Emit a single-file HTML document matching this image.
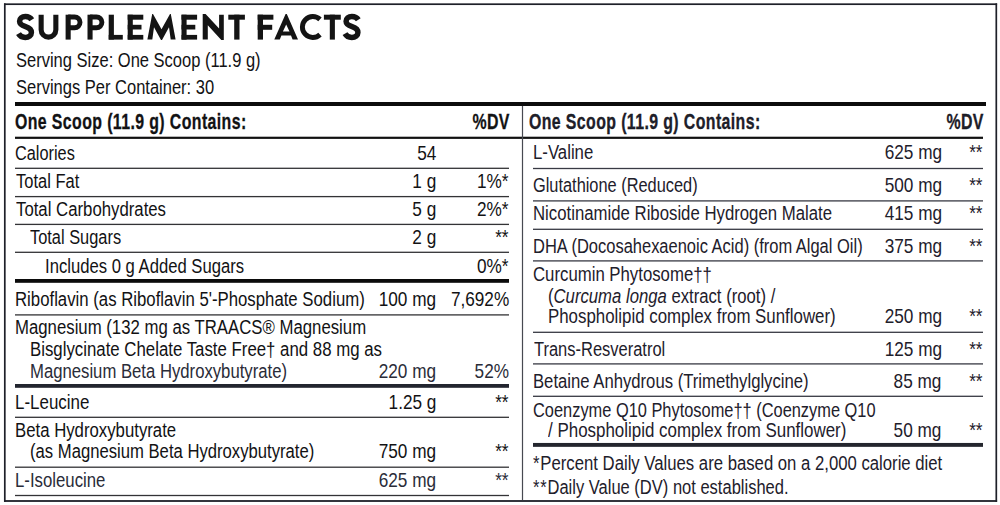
<!DOCTYPE html>
<html><head><meta charset="utf-8"><title>Supplement Facts</title>
<style>
html,body{margin:0;padding:0;background:#fff;}
body{width:1000px;height:505px;position:relative;overflow:hidden;font-family:"Liberation Sans",sans-serif;color:#121214;}
.t{position:absolute;white-space:pre;}
.dg{position:relative;top:1px;}
svg{position:absolute;left:0;top:0;}
</style></head><body>
<svg width="1000" height="505" viewBox="0 0 1000 505">
<rect x="4.0" y="3.35" width="993.1" height="1.7" fill="#1e2029"/>
<rect x="4.0" y="500.10" width="993.1" height="1.8" fill="#1e2029"/>
<rect x="3.95" y="3.35" width="1.7" height="498.54999999999995" fill="#1e2029"/>
<rect x="995.45" y="3.35" width="1.7" height="498.54999999999995" fill="#1e2029"/>
<g fill="#141414"><path d="M31.8 19.8 C30.4 17.5 28.1 16.5 25.4 16.5 C21.9 16.5 19.6 18.5 19.6 21.3 C19.6 24.7 22.5 25.7 25.6 26.7 C29.0 27.8 31.4 29.2 31.4 32.5 C31.4 35.4 28.8 37.4 25.3 37.4 C22.2 37.4 19.8 35.9 18.5 33.6" fill="none" stroke="#141414" stroke-width="5.5"/><path d="M41.15 14.7 V29.75 A7.35 7.35 0 0 0 55.85 29.75 V14.7" fill="none" stroke="#141414" stroke-width="5.1"/><rect x="65.6" y="14.7" width="5.10" height="24.90"/><path d="M68.15 16.95 H74.6 A5.4 5.4 0 0 1 74.6 27.75 H68.15" fill="none" stroke="#141414" stroke-width="4.9"/><rect x="87.5" y="14.7" width="5.10" height="24.90"/><path d="M90.05000000000001 16.95 H96.5 A5.4 5.4 0 0 1 96.5 27.75 H90.05000000000001" fill="none" stroke="#141414" stroke-width="4.9"/><rect x="108.7" y="14.7" width="5.20" height="24.90"/><rect x="108.7" y="34.9" width="14.10" height="4.70"/><rect x="127.7" y="14.7" width="5.10" height="24.90"/><rect x="127.7" y="14.7" width="15.60" height="5.00"/><rect x="127.7" y="24.8" width="13.80" height="4.70"/><rect x="127.7" y="34.9" width="15.60" height="4.70"/><path fill-rule="evenodd" d="M147.40 39.60 L152.20 14.10 L153.00 14.10 L161.50 29.30 L170.00 14.10 L170.80 14.10 L175.60 39.60 L170.70 39.60 L169.00 27.30 L162.00 39.90 L161.00 39.90 L154.00 27.30 L152.30 39.60 Z"/><rect x="181.5" y="14.7" width="5.10" height="24.90"/><rect x="181.5" y="14.7" width="15.60" height="5.00"/><rect x="181.5" y="24.8" width="13.80" height="4.70"/><rect x="181.5" y="34.9" width="15.60" height="4.70"/><path fill-rule="evenodd" d="M202.70 39.60 L202.70 14.10 L205.60 14.10 L219.10 28.60 L219.10 14.70 L223.80 14.70 L223.80 39.90 L221.30 39.90 L207.80 25.20 L207.80 39.60 Z"/><rect x="228.3" y="14.7" width="16.60" height="5.00"/><rect x="234.2" y="14.7" width="5.30" height="24.90"/><rect x="257.7" y="14.7" width="5.30" height="24.90"/><rect x="257.7" y="14.7" width="15.70" height="5.00"/><rect x="257.7" y="24.8" width="14.50" height="5.00"/><path fill-rule="evenodd" d="M274.30 39.60 L285.60 14.10 L286.80 14.10 L298.00 39.60 L292.60 39.60 L291.00 35.50 L281.40 35.50 L279.80 39.60 Z M286.20 24.60 L289.50 31.60 L282.90 31.60 Z"/><path d="M320.0 19.4 A10.45 10.45 0 1 0 320.0 34.6" fill="none" stroke="#141414" stroke-width="4.9"/><rect x="323.9" y="14.7" width="16.90" height="5.00"/><rect x="329.8" y="14.7" width="5.10" height="24.90"/><path d="M358.3 19.8 C356.9 17.5 354.6 16.5 351.9 16.5 C348.4 16.5 346.1 18.5 346.1 21.3 C346.1 24.7 349.0 25.7 352.1 26.7 C355.5 27.8 357.9 29.2 357.9 32.5 C357.9 35.4 355.3 37.4 351.8 37.4 C348.7 37.4 346.3 35.9 345.0 33.6" fill="none" stroke="#141414" stroke-width="5.5"/></g>
<rect x="15" y="102.00" width="971" height="4.0" fill="#0c0c0c"/>
<rect x="15" y="136.70" width="968" height="2.2" fill="#111"/>
<rect x="521.9" y="106" width="1.2" height="394" fill="#474951"/>
<rect x="15" y="167.65" width="494" height="1.3" fill="#333336"/>
<rect x="15" y="195.95" width="494" height="1.3" fill="#333336"/>
<rect x="15" y="223.75" width="494" height="1.3" fill="#333336"/>
<rect x="15" y="251.65" width="494" height="1.3" fill="#333336"/>
<rect x="15" y="314.25" width="494" height="1.3" fill="#333336"/>
<rect x="15" y="416.65" width="494" height="1.3" fill="#333336"/>
<rect x="15" y="466.55" width="494" height="1.3" fill="#333336"/>
<rect x="15" y="494.85" width="494" height="1.3" fill="#333336"/>
<rect x="15" y="279.00" width="494" height="3.8" fill="#0b0b0b"/>
<rect x="15" y="384.00" width="494" height="3.8" fill="#22252f"/>
<rect x="533" y="167.85" width="450" height="1.3" fill="#383a44"/>
<rect x="533" y="200.25" width="450" height="1.3" fill="#383a44"/>
<rect x="533" y="228.65" width="450" height="1.3" fill="#383a44"/>
<rect x="533" y="260.25" width="450" height="1.3" fill="#383a44"/>
<rect x="533" y="331.65" width="450" height="1.3" fill="#383a44"/>
<rect x="533" y="363.25" width="450" height="1.3" fill="#383a44"/>
<rect x="533" y="395.65" width="450" height="1.3" fill="#383a44"/>
<rect x="533" y="442.95" width="450" height="3.9" fill="#24262e"/>
</svg>
<div class="t" style="top:49.90px;font-size:20px;line-height:20px;transform:scaleX(0.825);left:15.50px;transform-origin:0 0;">Serving Size: One Scoop (11.9 g)</div>
<div class="t" style="top:77.10px;font-size:20px;line-height:20px;transform:scaleX(0.825);left:15.50px;transform-origin:0 0;">Servings Per Container: 30</div>
<div class="t" style="top:111.10px;font-size:22px;line-height:22px;transform:scaleX(0.7215);left:15.20px;transform-origin:0 0;font-weight:bold;letter-spacing:0.55px;-webkit-text-stroke:0.3px #111;">One Scoop (11.9 g) Contains:</div>
<div class="t" style="top:111.10px;font-size:22px;line-height:22px;transform:scaleX(0.7215);right:490.50px;transform-origin:100% 0;font-weight:bold;letter-spacing:0.55px;-webkit-text-stroke:0.3px #111;">%DV</div>
<div class="t" style="top:142.50px;font-size:20px;line-height:20px;transform:scaleX(0.8153739999999999);left:15.20px;transform-origin:0 0;">Calories</div>
<div class="t" style="top:141.50px;font-size:21px;line-height:21px;transform:scaleX(0.819047619047619);right:563.80px;transform-origin:100% 0;">54</div>
<div class="t" style="top:170.80px;font-size:20px;line-height:20px;transform:scaleX(0.824592);left:15.80px;transform-origin:0 0;">Total Fat</div>
<div class="t" style="top:169.80px;font-size:21px;line-height:21px;transform:scaleX(0.819047619047619);right:563.80px;transform-origin:100% 0;">1 g</div>
<div class="t" style="top:169.80px;font-size:21px;line-height:21px;transform:scaleX(0.819047619047619);right:491.00px;transform-origin:100% 0;">1%*</div>
<div class="t" style="top:198.80px;font-size:20px;line-height:20px;transform:scaleX(0.838);left:15.50px;transform-origin:0 0;">Total Carbohydrates</div>
<div class="t" style="top:197.80px;font-size:21px;line-height:21px;transform:scaleX(0.819047619047619);right:563.80px;transform-origin:100% 0;">5 g</div>
<div class="t" style="top:197.80px;font-size:21px;line-height:21px;transform:scaleX(0.819047619047619);right:491.00px;transform-origin:100% 0;">2%*</div>
<div class="t" style="top:227.20px;font-size:20px;line-height:20px;transform:scaleX(0.819564);left:29.70px;transform-origin:0 0;">Total Sugars</div>
<div class="t" style="top:226.20px;font-size:21px;line-height:21px;transform:scaleX(0.819047619047619);right:563.80px;transform-origin:100% 0;">2 g</div>
<div class="t" style="top:227.20px;font-size:20px;line-height:20px;transform:scaleX(0.86);right:491.00px;transform-origin:100% 0;">**</div>
<div class="t" style="top:255.80px;font-size:20px;line-height:20px;transform:scaleX(0.8329719999999999);left:44.70px;transform-origin:0 0;">Includes 0 g Added Sugars</div>
<div class="t" style="top:254.80px;font-size:21px;line-height:21px;transform:scaleX(0.819047619047619);right:491.00px;transform-origin:100% 0;">0%*</div>
<div class="t" style="top:289.00px;font-size:20px;line-height:20px;transform:scaleX(0.838);left:15.20px;transform-origin:0 0;">Riboflavin (as Riboflavin 5'-Phosphate Sodium)</div>
<div class="t" style="top:288.00px;font-size:21px;line-height:21px;transform:scaleX(0.819047619047619);right:563.80px;transform-origin:100% 0;">100 mg</div>
<div class="t" style="top:288.00px;font-size:21px;line-height:21px;transform:scaleX(0.819047619047619);right:491.00px;transform-origin:100% 0;">7,692%</div>
<div class="t" style="top:316.80px;font-size:20px;line-height:20px;transform:scaleX(0.838);left:15.20px;transform-origin:0 0;">Magnesium (132 mg as TRAACS&reg; Magnesium</div>
<div class="t" style="top:338.50px;font-size:20px;line-height:20px;transform:scaleX(0.8405139999999999);left:30.20px;transform-origin:0 0;">Bisglycinate Chelate Taste Free<span class="dg">&dagger;</span> and 88 mg as</div>
<div class="t" style="top:360.50px;font-size:20px;line-height:20px;transform:scaleX(0.834648);left:30.20px;transform-origin:0 0;color:#2a2c38;">Magnesium Beta Hydroxybutyrate)</div>
<div class="t" style="top:359.50px;font-size:21px;line-height:21px;transform:scaleX(0.819047619047619);right:563.80px;transform-origin:100% 0;color:#2a2c38;">220 mg</div>
<div class="t" style="top:359.50px;font-size:21px;line-height:21px;transform:scaleX(0.819047619047619);right:491.00px;transform-origin:100% 0;color:#2a2c38;">52%</div>
<div class="t" style="top:391.80px;font-size:20px;line-height:20px;transform:scaleX(0.84638);left:15.20px;transform-origin:0 0;">L-Leucine</div>
<div class="t" style="top:390.80px;font-size:21px;line-height:21px;transform:scaleX(0.819047619047619);right:563.80px;transform-origin:100% 0;">1.25 g</div>
<div class="t" style="top:391.80px;font-size:20px;line-height:20px;transform:scaleX(0.86);right:491.00px;transform-origin:100% 0;">**</div>
<div class="t" style="top:420.00px;font-size:20px;line-height:20px;transform:scaleX(0.838);left:15.20px;transform-origin:0 0;">Beta Hydroxybutyrate</div>
<div class="t" style="top:440.80px;font-size:20px;line-height:20px;transform:scaleX(0.8329719999999999);left:30.20px;transform-origin:0 0;">(as Magnesium Beta Hydroxybutyrate)</div>
<div class="t" style="top:439.80px;font-size:21px;line-height:21px;transform:scaleX(0.819047619047619);right:563.80px;transform-origin:100% 0;">750 mg</div>
<div class="t" style="top:440.80px;font-size:20px;line-height:20px;transform:scaleX(0.86);right:491.00px;transform-origin:100% 0;">**</div>
<div class="t" style="top:470.00px;font-size:20px;line-height:20px;transform:scaleX(0.838);left:15.20px;transform-origin:0 0;color:#2a2c38;">L-Isoleucine</div>
<div class="t" style="top:469.00px;font-size:21px;line-height:21px;transform:scaleX(0.819047619047619);right:563.80px;transform-origin:100% 0;color:#2a2c38;">625 mg</div>
<div class="t" style="top:470.00px;font-size:20px;line-height:20px;transform:scaleX(0.86);right:491.00px;transform-origin:100% 0;color:#2a2c38;">**</div>
<div class="t" style="top:111.10px;font-size:22px;line-height:22px;transform:scaleX(0.7215);left:529.10px;transform-origin:0 0;font-weight:bold;color:#1e202b;letter-spacing:0.55px;-webkit-text-stroke:0.3px #111;">One Scoop (11.9 g) Contains:</div>
<div class="t" style="top:111.10px;font-size:22px;line-height:22px;transform:scaleX(0.7215);right:16.50px;transform-origin:100% 0;font-weight:bold;color:#1e202b;letter-spacing:0.55px;-webkit-text-stroke:0.3px #111;">%DV</div>
<div class="t" style="top:142.20px;font-size:20px;line-height:20px;transform:scaleX(0.838);left:533.00px;transform-origin:0 0;color:#1e202b;">L-Valine</div>
<div class="t" style="top:141.20px;font-size:21px;line-height:21px;transform:scaleX(0.819047619047619);right:58.20px;transform-origin:100% 0;color:#1e202b;">625 mg</div>
<div class="t" style="top:142.20px;font-size:20px;line-height:20px;transform:scaleX(0.86);right:17.00px;transform-origin:100% 0;color:#1e202b;">**</div>
<div class="t" style="top:174.90px;font-size:20px;line-height:20px;transform:scaleX(0.817888);left:533.00px;transform-origin:0 0;color:#1e202b;">Glutathione (Reduced)</div>
<div class="t" style="top:173.90px;font-size:21px;line-height:21px;transform:scaleX(0.819047619047619);right:58.20px;transform-origin:100% 0;color:#1e202b;">500 mg</div>
<div class="t" style="top:174.90px;font-size:20px;line-height:20px;transform:scaleX(0.86);right:17.00px;transform-origin:100% 0;color:#1e202b;">**</div>
<div class="t" style="top:203.00px;font-size:20px;line-height:20px;transform:scaleX(0.838);left:533.00px;transform-origin:0 0;color:#1e202b;">Nicotinamide Riboside Hydrogen Malate</div>
<div class="t" style="top:202.00px;font-size:21px;line-height:21px;transform:scaleX(0.819047619047619);right:58.20px;transform-origin:100% 0;color:#1e202b;">415 mg</div>
<div class="t" style="top:203.00px;font-size:20px;line-height:20px;transform:scaleX(0.86);right:17.00px;transform-origin:100% 0;color:#1e202b;">**</div>
<div class="t" style="top:236.00px;font-size:20px;line-height:20px;transform:scaleX(0.823754);left:533.00px;transform-origin:0 0;color:#1e202b;">DHA (Docosahexaenoic Acid) (from Algal Oil)</div>
<div class="t" style="top:235.00px;font-size:21px;line-height:21px;transform:scaleX(0.819047619047619);right:58.20px;transform-origin:100% 0;color:#1e202b;">375 mg</div>
<div class="t" style="top:236.00px;font-size:20px;line-height:20px;transform:scaleX(0.86);right:17.00px;transform-origin:100% 0;color:#1e202b;">**</div>
<div class="t" style="top:264.00px;font-size:20px;line-height:20px;transform:scaleX(0.838);left:533.00px;transform-origin:0 0;color:#1e202b;">Curcumin Phytosome<span class="dg">&dagger;</span><span class="dg">&dagger;</span></div>
<div class="t" style="top:285.50px;font-size:20px;line-height:20px;transform:scaleX(0.834648);left:548.00px;transform-origin:0 0;color:#1e202b;">(<i>Curcuma longa</i> extract (root) /</div>
<div class="t" style="top:306.30px;font-size:20px;line-height:20px;transform:scaleX(0.843028);left:548.00px;transform-origin:0 0;color:#1e202b;">Phospholipid complex from Sunflower)</div>
<div class="t" style="top:305.30px;font-size:21px;line-height:21px;transform:scaleX(0.819047619047619);right:58.20px;transform-origin:100% 0;color:#1e202b;">250 mg</div>
<div class="t" style="top:306.30px;font-size:20px;line-height:20px;transform:scaleX(0.86);right:17.00px;transform-origin:100% 0;color:#1e202b;">**</div>
<div class="t" style="top:338.50px;font-size:20px;line-height:20px;transform:scaleX(0.823754);left:533.80px;transform-origin:0 0;color:#1e202b;">Trans-Resveratrol</div>
<div class="t" style="top:337.50px;font-size:21px;line-height:21px;transform:scaleX(0.819047619047619);right:58.20px;transform-origin:100% 0;color:#1e202b;">125 mg</div>
<div class="t" style="top:338.50px;font-size:20px;line-height:20px;transform:scaleX(0.86);right:17.00px;transform-origin:100% 0;color:#1e202b;">**</div>
<div class="t" style="top:370.80px;font-size:20px;line-height:20px;transform:scaleX(0.8338099999999999);left:533.00px;transform-origin:0 0;color:#1e202b;">Betaine Anhydrous (Trimethylglycine)</div>
<div class="t" style="top:369.80px;font-size:21px;line-height:21px;transform:scaleX(0.819047619047619);right:58.20px;transform-origin:100% 0;color:#1e202b;">85 mg</div>
<div class="t" style="top:370.80px;font-size:20px;line-height:20px;transform:scaleX(0.86);right:17.00px;transform-origin:100% 0;color:#1e202b;">**</div>
<div class="t" style="top:399.50px;font-size:20px;line-height:20px;transform:scaleX(0.819564);left:533.00px;transform-origin:0 0;color:#1e202b;">Coenzyme Q10 Phytosome<span class="dg">&dagger;</span><span class="dg">&dagger;</span> (Coenzyme Q10</div>
<div class="t" style="top:419.50px;font-size:20px;line-height:20px;transform:scaleX(0.846799);left:548.00px;transform-origin:0 0;color:#1e202b;">/ Phospholipid complex from Sunflower)</div>
<div class="t" style="top:418.50px;font-size:21px;line-height:21px;transform:scaleX(0.819047619047619);right:58.20px;transform-origin:100% 0;color:#1e202b;">50 mg</div>
<div class="t" style="top:419.50px;font-size:20px;line-height:20px;transform:scaleX(0.86);right:17.00px;transform-origin:100% 0;color:#1e202b;">**</div>
<div class="t" style="top:452.90px;font-size:20px;line-height:20px;transform:scaleX(0.835486);left:533.00px;transform-origin:0 0;color:#1e202b;"><span style="letter-spacing:1px">*</span>Percent Daily Values are based on a 2,000 calorie diet</div>
<div class="t" style="top:476.70px;font-size:20px;line-height:20px;transform:scaleX(0.82543);left:533.00px;transform-origin:0 0;color:#1e202b;"><span style="letter-spacing:1px">**</span>Daily Value (DV) not established.</div>
</body></html>
